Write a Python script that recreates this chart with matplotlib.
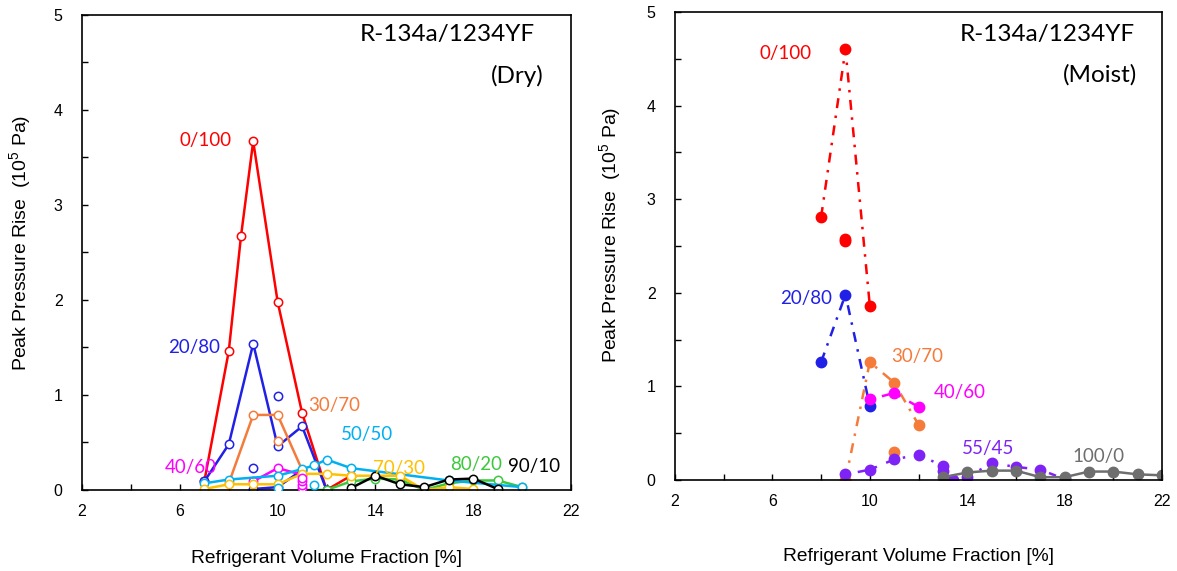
import numpy as np
import matplotlib
matplotlib.use("Agg")
import matplotlib.pyplot as plt
from matplotlib.ticker import MultipleLocator, FixedLocator

plt.rcParams['font.family'] = ['Liberation Sans', 'DejaVu Sans']
plt.rcParams['mathtext.default'] = 'regular'

# ---- Dry (left) ----
dry_red_x = [7, 8, 8.5, 9, 10, 11, 12, 13]
dry_red_y = [0.09, 1.46, 2.67, 3.67, 1.98, 0.81, 0.0, 0.15]

dry_blue_x = [7, 8, 9, 10, 11, 12]
dry_blue_y = [0.09, 0.48, 1.54, 0.46, 0.67, 0.0]
dry_blue2_x = [9, 10, 11]
dry_blue2_y = [0.01, 0.03, 0.21]
dry_blue_pts_x = [9, 10]
dry_blue_pts_y = [0.235, 0.99]

dry_orange_x = [8, 9, 10, 11]
dry_orange_y = [0.07, 0.79, 0.79, 0.21]
dry_orange_pts_x = [10]
dry_orange_pts_y = [0.52]

dry_magenta_x = [9, 10, 11]
dry_magenta_y = [0.09, 0.23, 0.16]
dry_magenta_pts_x = [11, 11, 11, 11]
dry_magenta_pts_y = [0.02, 0.05, 0.09, 0.13]

dry_cyan_x = [7, 8, 10, 11, 11.5, 12, 13, 17, 20]
dry_cyan_y = [0.07, 0.11, 0.15, 0.22, 0.26, 0.32, 0.23, 0.10, 0.03]
dry_cyan_pts_x = [10, 11.5]
dry_cyan_pts_y = [0.02, 0.05]

dry_yellow_x = [7, 8, 9, 10, 11, 12, 13, 15, 16, 17, 18]
dry_yellow_y = [0.01, 0.06, 0.06, 0.06, 0.17, 0.17, 0.15, 0.15, 0.0, 0.03, 0.01]

dry_green_x = [11, 12, 13, 14, 15, 16, 17, 18, 19, 20]
dry_green_y = [0.0, 0.0, 0.09, 0.12, 0.11, 0.0, 0.07, 0.10, 0.10, 0.03]

dry_black_x = [13, 14, 15, 16, 17, 18, 19]
dry_black_y = [0.02, 0.15, 0.06, 0.03, 0.11, 0.12, 0.01]

# ---- Moist (right) ----
wet_red_x = [8, 9, 10]
wet_red_y = [2.81, 4.60, 1.86]
wet_red_pts_x = [9, 9]
wet_red_pts_y = [2.55, 2.57]

wet_blue_x = [8, 9, 10]
wet_blue_y = [1.26, 1.98, 0.79]

wet_orange_x = [9, 10, 11, 12]
wet_orange_y = [0.0, 1.26, 1.04, 0.59]
wet_orange_pts_x = [11]
wet_orange_pts_y = [0.30]

wet_magenta_x = [10, 11, 12]
wet_magenta_y = [0.86, 0.93, 0.78]

wet_purple_x = [9, 10, 11, 12, 13, 13, 13.4, 14, 15, 16, 17, 18]
wet_purple_y = [0.06, 0.11, 0.22, 0.27, 0.15, 0.10, 0.0, 0.03, 0.18, 0.14, 0.11, 0.01]

wet_grey_x = [13, 14, 15, 16, 17, 18, 19, 20, 21, 22]
wet_grey_y = [0.03, 0.08, 0.10, 0.10, 0.03, 0.03, 0.09, 0.09, 0.06, 0.05]

x_ticks = [2, 6, 10, 14, 18, 22]

RED = '#FF0000'
BLUE = '#2020E6'
ORANGE = '#F57B3A'
MAGENTA = '#FF00FF'
CYAN = '#00B0F0'
YELLOW = '#FFC000'
GREEN = '#3CC83C'
PURPLE = '#7F22F5'
GREY = '#6E6E6E'

label_font = ['Lato', 'DejaVu Sans']


def style_axes(ax):
    ax.set_xlim(2, 22)
    ax.set_ylim(0, 5)
    ax.xaxis.set_major_locator(FixedLocator(x_ticks))
    ax.xaxis.set_minor_locator(MultipleLocator(2))
    ax.yaxis.set_major_locator(MultipleLocator(1))
    ax.yaxis.set_minor_locator(MultipleLocator(0.5))
    ax.tick_params(which='both', direction='in', length=4, width=1, labelsize=11.5)
    ax.tick_params(axis='y', pad=14)
    ax.tick_params(axis='x', pad=10)
    for s in ax.spines.values():
        s.set_linewidth(1.2)
    ax.set_xlabel('Refrigerant Volume Fraction [%]', fontsize=13.8)
    ax.set_ylabel('Peak Pressure Rise  (10$^{5}$ Pa)', fontsize=14)


fig = plt.figure(figsize=(11.77, 5.71), dpi=100)
ax1 = fig.add_axes([0.0697, 0.1419, 0.4155, 0.8319])
ax2 = fig.add_axes([0.5735, 0.1594, 0.4138, 0.8196])

open_kw = dict(marker='o', markersize=6, markerfacecolor='white', markeredgewidth=1.1, linewidth=1.8)


def dry_line(x, y, c, z=2):
    ax1.plot(x, y, color=c, markeredgecolor=c, zorder=z, **open_kw)


def dry_pts(x, y, c):
    ax1.plot(x, y, linestyle='none', marker='o', markersize=6, markerfacecolor='white',
             markeredgecolor=c, markeredgewidth=1.1, zorder=3)


dry_line(dry_red_x, dry_red_y, RED)
dry_line(dry_blue_x, dry_blue_y, BLUE)
dry_line(dry_blue2_x, dry_blue2_y, BLUE)
dry_pts(dry_blue_pts_x, dry_blue_pts_y, BLUE)
dry_line(dry_orange_x, dry_orange_y, ORANGE)
dry_pts(dry_orange_pts_x, dry_orange_pts_y, ORANGE)
dry_line(dry_magenta_x, dry_magenta_y, MAGENTA)
dry_pts(dry_magenta_pts_x, dry_magenta_pts_y, MAGENTA)
dry_line(dry_green_x, dry_green_y, GREEN)
dry_line(dry_cyan_x, dry_cyan_y, CYAN)
dry_pts(dry_cyan_pts_x, dry_cyan_pts_y, CYAN)
dry_line(dry_yellow_x, dry_yellow_y, YELLOW)
dry_line(dry_black_x, dry_black_y, 'black')

style_axes(ax1)
ax1.yaxis.set_label_coords(-0.100, 0.52)
ax1.xaxis.set_label_coords(0.5, -0.126)

dry_labels = [('0/100', 7.06, 3.68, RED), ('20/80', 6.57, 1.5, BLUE), ('30/70', 12.33, 0.89, ORANGE),
              ('50/50', 13.65, 0.58, CYAN), ('40/60', 6.44, 0.24, MAGENTA), ('70/30', 14.96, 0.23, YELLOW),
              ('80/20', 18.1, 0.27, GREEN), ('90/10', 20.5, 0.25, 'black')]
for t, x, y, c in dry_labels:
    ax1.text(x, y, t, color=c, fontsize=13.5, ha='center', va='center', family=label_font)

ax1.text(0.926, 0.958, 'R-134a/1234YF', transform=ax1.transAxes, fontsize=17.5, ha='right',
         va='center', family=label_font)
ax1.text(0.89, 0.872, '(Dry)', transform=ax1.transAxes, fontsize=17.5, ha='center',
         va='center', family=label_font)

# moist
fill_kw = dict(marker='o', markersize=7.5, linewidth=1.8)
dd = (0, (4, 3, 1, 3))
dot = (0, (1, 4, 3, 4))
ax2.plot(wet_red_x, wet_red_y, color=RED, linestyle=dd, **fill_kw)
ax2.plot(wet_red_pts_x, wet_red_pts_y, color=RED, linestyle='none', marker='o', markersize=7.5)
ax2.plot(wet_blue_x, wet_blue_y, color=BLUE, linestyle=dd, **fill_kw)
ax2.plot(wet_orange_x, wet_orange_y, color=ORANGE, linestyle=dd, **fill_kw)
ax2.plot(wet_orange_pts_x, wet_orange_pts_y, color=ORANGE, linestyle='none', marker='o', markersize=7.5)
ax2.plot(wet_magenta_x, wet_magenta_y, color=MAGENTA, linestyle=dot, **fill_kw)
ax2.plot(wet_purple_x, wet_purple_y, color=PURPLE, linestyle=dot, **fill_kw)
ax2.plot(wet_grey_x, wet_grey_y, color=GREY, linestyle='-', **fill_kw)

style_axes(ax2)
ax2.yaxis.set_label_coords(-0.107, 0.523)
ax2.xaxis.set_label_coords(0.5, -0.145)

wet_labels = [('0/100', 6.55, 4.56, RED), ('20/80', 7.38, 1.94, BLUE), ('30/70', 11.94, 1.32, ORANGE),
              ('40/60', 13.68, 0.94, MAGENTA), ('55/45', 14.84, 0.34, PURPLE), ('100/0', 19.4, 0.25, GREY)]
for t, x, y, c in wet_labels:
    ax2.text(x, y, t, color=c, fontsize=13.5, ha='center', va='center', family=label_font)

ax2.text(0.945, 0.951, 'R-134a/1234YF', transform=ax2.transAxes, fontsize=17.5, ha='right',
         va='center', family=label_font)
ax2.text(0.873, 0.865, '(Moist)', transform=ax2.transAxes, fontsize=17.5, ha='center',
         va='center', family=label_font)

fig.savefig('out.png', dpi=100)
